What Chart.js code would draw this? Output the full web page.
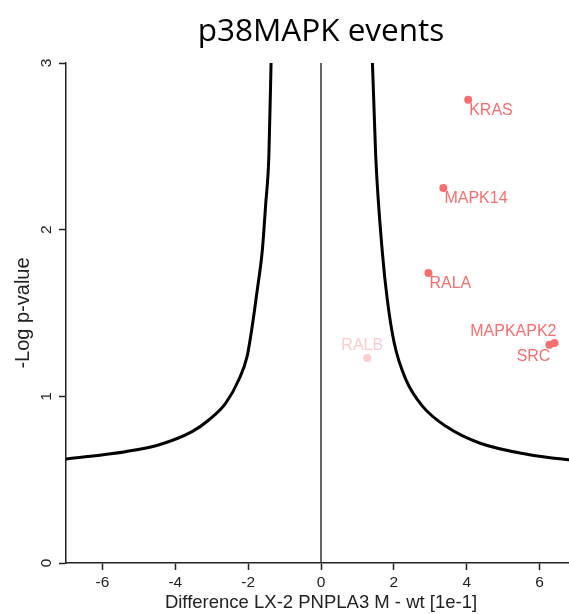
<!DOCTYPE html>
<html>
<head>
<meta charset="utf-8">
<script src="https://cdn.jsdelivr.net/npm/chart.js@4/dist/chart.umd.min.js"></script>
<style>
  html, body { margin: 0; padding: 0; background: #ffffff; overflow: hidden; }
  #wrap { width: 569px; height: 614px; position: relative; overflow: hidden; }
  #c { position: absolute; left: 0; top: 0; }
</style>
</head>
<body>
<div id="wrap"><canvas id="c" width="580" height="614"></canvas></div>
<script>
// ---- data ----
const geneNames = ['KRAS', 'MAPK14', 'RALA', 'MAPKAPK2', 'SRC', 'RALB'];
const geneDiff  = [4.04, 3.36, 2.95, 6.41, 6.27, 1.27];
const geneLogP  = [2.78, 2.25, 1.74, 1.32, 1.31, 1.23];
const geneSignificant = [true, true, true, true, true, false];

// threshold curve, left branch (x, -log p)
const leftCurveX = [-7.02, -5.37, -4.46, -3.54, -3.08, -2.62, -2.26, -2.03, -1.89, -1.75, -1.61, -1.52, -1.43, -1.37, -1.35];
const leftCurveY = [0.624, 0.668, 0.708, 0.788, 0.858, 0.958, 1.098, 1.238, 1.418, 1.638, 1.878, 2.148, 2.448, 3.01, 3.2];
// threshold curve, right branch
const rightCurveX = [1.39, 1.41, 1.50, 1.69, 1.82, 2.01, 2.33, 2.79, 3.43, 4.35, 5.72, 6.80, 7.05];
const rightCurveY = [3.2, 3.01, 2.45, 1.85, 1.58, 1.32, 1.10, 0.94, 0.82, 0.72, 0.65, 0.62, 0.615];
// vertical reference line at zero difference
const zeroLineX = [0, 0];
const zeroLineY = [-0.1, 3.1];

const xTicks = [-6, -4, -2, 0, 2, 4, 6];
const yTicks = [0, 1, 2, 3];
const xRange = [-7, 7];
const yRange = [0, 3];

const titleText = 'p38MAPK events';
const xTitle = 'Difference LX-2 PNPLA3 M - wt [1e-1]';
const yTitle = '-Log p-value';

// ---- styling ----
const SIG_COLOR = 'rgb(246,110,110)';
const NS_COLOR = 'rgb(251,204,204)';
const AXIS_COLOR = '#222222';
const SANS = '"Liberation Sans", Arial, sans-serif';

// where each label sits relative to its dot
const labelPlacement = {
  KRAS:     { align: 'left',   dx: 1,  dy: 11 },
  MAPK14:   { align: 'left',   dx: 1,  dy: 11 },
  RALA:     { align: 'left',   dx: 1,  dy: 11 },
  MAPKAPK2: { align: 'right',  dx: 2,  dy: -11 },
  SRC:      { align: 'right',  dx: 1,  dy: 12 },
  RALB:     { align: 'center', dx: -5, dy: -12 }
};

const toXY = (xs, ys) => xs.map((x, i) => ({ x: x, y: ys[i] }));

const pointLabelPlugin = {
  id: 'pointLabels',
  afterDatasetsDraw(chart) {
    const meta = chart.getDatasetMeta(3);
    const ctx = chart.ctx;
    ctx.save();
    ctx.font = '16px ' + SANS;
    ctx.textBaseline = 'middle';
    meta.data.forEach((el, i) => {
      const name = geneNames[i];
      const p = labelPlacement[name];
      ctx.fillStyle = geneSignificant[i] ? SIG_COLOR : NS_COLOR;
      ctx.textAlign = p.align;
      ctx.fillText(name, el.x + p.dx, el.y + p.dy);
    });
    ctx.restore();
  }
};

new Chart(document.getElementById('c'), {
  type: 'scatter',
  data: {
    datasets: [
      {
        label: 'threshold left',
        data: toXY(leftCurveX, leftCurveY),
        showLine: true,
        borderColor: '#000000',
        borderWidth: 3,
        pointRadius: 0,
        cubicInterpolationMode: 'monotone'
      },
      {
        label: 'threshold right',
        data: toXY(rightCurveX, rightCurveY),
        showLine: true,
        borderColor: '#000000',
        borderWidth: 3,
        pointRadius: 0,
        cubicInterpolationMode: 'monotone'
      },
      {
        label: 'zero',
        data: toXY(zeroLineX, zeroLineY),
        showLine: true,
        borderColor: '#333333',
        borderWidth: 1.5,
        pointRadius: 0,
        tension: 0
      },
      {
        label: 'genes',
        data: toXY(geneDiff, geneLogP),
        pointRadius: 4,
        pointHoverRadius: 4,
        pointBorderWidth: 0,
        pointBackgroundColor: geneSignificant.map(s => s ? SIG_COLOR : NS_COLOR),
        pointBorderColor: geneSignificant.map(s => s ? SIG_COLOR : NS_COLOR)
      }
    ]
  },
  options: {
    responsive: false,
    animation: false,
    events: [],
    layout: { padding: 0 },
    plugins: {
      legend: { display: false },
      tooltip: { enabled: false },
      title: {
        display: true,
        text: titleText,
        fullSize: false,
        color: '#000000',
        font: { family: '"Open Sans", "Noto Sans", sans-serif', size: 31.5, weight: 'normal', lineHeight: 1.2 },
        padding: { top: 13.6, bottom: 11.6 }
      }
    },
    scales: {
      x: {
        type: 'linear',
        min: xRange[0],
        max: xRange[1],
        afterBuildTicks: s => { s.ticks = xTicks.map(v => ({ value: v })); },
        afterFit: s => { s.height = 51; s.paddingLeft = 0; s.paddingRight = 0; },
        grid: { drawOnChartArea: false, drawTicks: true, tickLength: 7, tickColor: AXIS_COLOR, tickWidth: 1.5 },
        border: { display: true, color: AXIS_COLOR, width: 1.5 },
        ticks: { color: AXIS_COLOR, font: { family: SANS, size: 15.5 }, padding: 3, maxRotation: 0 },
        title: { display: true, text: xTitle, color: AXIS_COLOR, font: { family: SANS, size: 18.5 }, padding: { top: 0, bottom: 0 } }
      },
      y: {
        type: 'linear',
        min: yRange[0],
        max: yRange[1],
        afterBuildTicks: s => { s.ticks = yTicks.map(v => ({ value: v })); },
        afterFit: s => { s.width = 66; s.paddingTop = 0; s.paddingBottom = 0; },
        grid: { drawOnChartArea: false, drawTicks: true, tickLength: 7, tickColor: AXIS_COLOR, tickWidth: 1.5 },
        border: { display: true, color: AXIS_COLOR, width: 1.5 },
        ticks: { color: AXIS_COLOR, font: { family: SANS, size: 15.5 }, padding: 8, minRotation: 90, maxRotation: 90, crossAlign: 'center' },
        title: { display: true, text: yTitle, color: AXIS_COLOR, font: { family: SANS, size: 20 }, padding: { top: 11, bottom: 0 } }
      }
    }
  },
  plugins: [pointLabelPlugin]
});
</script>
</body>
</html>
